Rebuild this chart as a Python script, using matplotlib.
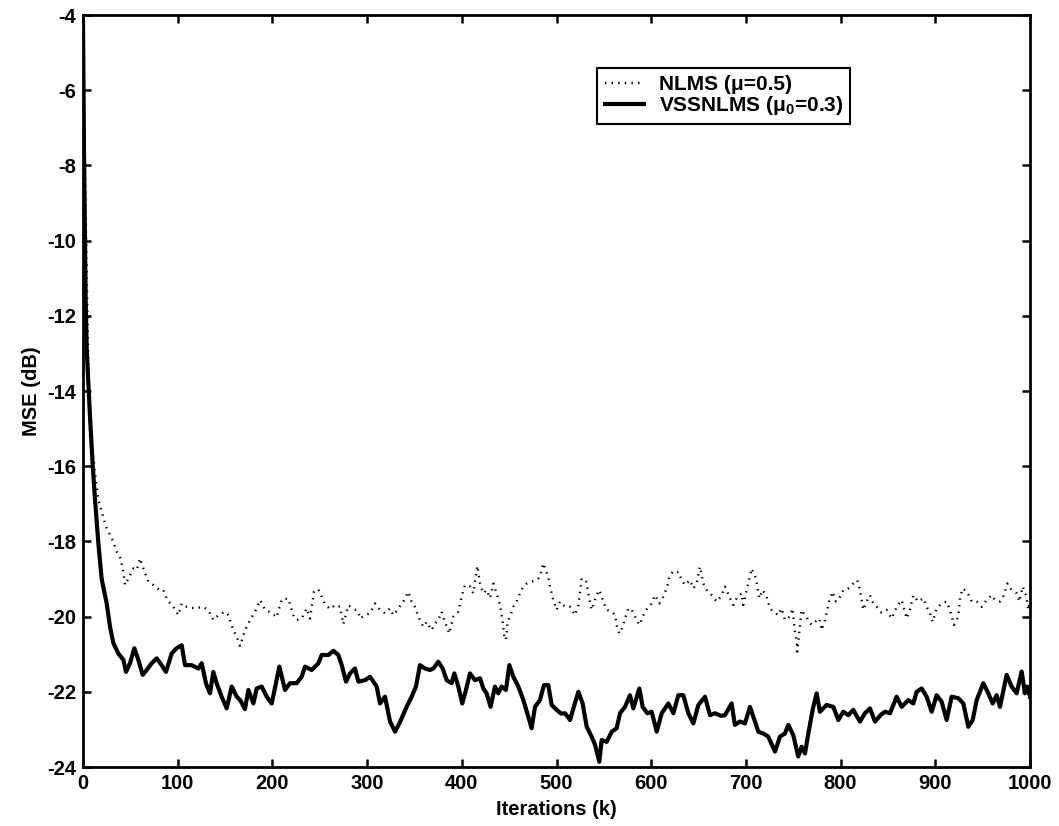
import matplotlib
matplotlib.use("Agg")
import matplotlib.pyplot as plt

plt.rcParams["font.family"] = ["Liberation Sans", "DejaVu Sans"]
plt.rcParams["font.weight"] = "bold"
plt.rcParams["axes.unicode_minus"] = False
plt.rcParams["mathtext.fontset"] = "custom"
plt.rcParams["mathtext.bf"] = "Liberation Sans:bold"
plt.rcParams["mathtext.rm"] = "Liberation Sans:bold"
plt.rcParams["mathtext.default"] = "bf"

# VSSNLMS learning curve (iteration, MSE in dB)
k_vss = [0, 1, 2.8, 3.9, 7.4, 10.2, 12.7, 16.2, 19.7, 25, 28.5, 32, 37.3, 42.6, 45.4, 49.6,
         54.2, 58.4, 63, 67.2, 72.5, 77.8, 83, 87.6, 93.6, 98.9, 104.2, 107.7, 114.7, 121.8,
         125.3, 129.9, 134.1, 137.6, 141.2, 146.4, 151.7, 157, 162.3, 166, 171, 174.6, 179.9,
         183.4, 188.7, 194, 199.2, 201, 207.3, 213.3, 218.6, 225.6, 230.9, 234.4, 241.5, 248.5,
         252, 259.1, 264.4, 269.6, 273.2, 277.7, 282, 287.2, 290.8, 297.8, 303.1, 310.1, 313.6,
         318.9, 324.2, 329.5, 334.8, 341.7, 347, 351.6, 355.8, 361.1, 366.4, 369.9, 375.2,
         379.8, 384, 389.3, 392.1, 396.3, 400.5, 404.4, 408.6, 413.9, 419.2, 422.7, 426.2,
         430.4, 435, 438.5, 442, 446.6, 450.2, 454.4, 459.7, 465, 470.2, 473.7, 477.3, 482.5,
         486.8, 491.3, 494.9, 500.1, 505, 509, 514.3, 517.8, 523.1, 527.6, 531.9, 537.1, 540.7,
         545.2, 547.7, 553, 558.3, 563.5, 567.1, 572.3, 577.6, 581.1, 587.5, 591, 595.9, 600.5,
         605.8, 611.1, 618.1, 623.4, 628.7, 633.9, 639.2, 644.5, 649.8, 656.8, 662.1, 667.4,
         674, 677.9, 684.9, 688.4, 693.7, 699, 704.3, 709.6, 713.1, 718.4, 723.6, 730.7, 736,
         741.2, 744.8, 750, 755.3, 758.8, 762.4, 765.9, 770.8, 774.7, 778.2, 785.2, 792.3,
         797.6, 802.8, 808.1, 813.4, 820.4, 825.7, 831, 836.3, 843, 846.9, 852.2, 859.2, 864.5,
         871.5, 876.8, 880.3, 885.6, 890.9, 896.2, 901.4, 906.7, 912, 917.3, 924.3, 929.6,
         934.9, 939.5, 943.7, 950.7, 956, 960.6, 964.8, 968.3, 975.4, 980.6, 985.9, 991.2,
         994.7, 997.2, 1000]
mse_vss = [-4.2, -7.6, -11.6, -12.9, -14.7, -15.97, -16.9, -18.05, -19.0, -19.65, -20.27, -20.7,
           -20.98, -21.15, -21.47, -21.24, -20.84, -21.15, -21.55, -21.42, -21.24, -21.11, -21.29,
           -21.47, -20.98, -20.84, -20.76, -21.29, -21.29, -21.38, -21.24, -21.78, -22.04, -21.47,
           -21.78, -22.13, -22.44, -21.86, -22.13, -22.22, -22.46, -21.95, -22.31, -21.91, -21.86,
           -22.13, -22.31, -22.1, -21.33, -21.95, -21.77, -21.77, -21.6, -21.33, -21.42, -21.24,
           -21.02, -21.02, -20.91, -21.02, -21.29, -21.73, -21.51, -21.38, -21.73, -21.69, -21.6,
           -21.86, -22.31, -22.13, -22.79, -23.06, -22.8, -22.4, -22.13, -21.86, -21.29, -21.38,
           -21.42, -21.38, -21.2, -21.38, -21.69, -21.77, -21.51, -21.86, -22.31, -21.95, -21.51,
           -21.69, -21.64, -21.91, -22.04, -22.4, -21.86, -22.04, -21.86, -21.95, -21.29, -21.6,
           -21.86, -22.22, -22.66, -22.97, -22.4, -22.22, -21.82, -21.82, -22.35, -22.48, -22.58,
           -22.57, -22.75, -22.44, -22.0, -22.31, -22.93, -23.19, -23.41, -23.86, -23.28, -23.33,
           -23.06, -22.97, -22.57, -22.4, -22.09, -22.44, -21.91, -22.4, -22.57, -22.53, -23.06,
           -22.57, -22.31, -22.57, -22.09, -22.09, -22.57, -22.84, -22.35, -22.13, -22.62, -22.57,
           -22.64, -22.62, -22.31, -22.88, -22.79, -22.84, -22.4, -22.79, -23.06, -23.11, -23.19,
           -23.59, -23.19, -23.11, -22.88, -23.15, -23.72, -23.46, -23.64, -23.11, -22.44, -22.04,
           -22.53, -22.35, -22.4, -22.75, -22.53, -22.62, -22.48, -22.79, -22.57, -22.44, -22.79,
           -22.6, -22.53, -22.57, -22.13, -22.4, -22.22, -22.31, -22.0, -21.91, -22.13, -22.53,
           -22.09, -22.26, -22.75, -22.13, -22.17, -22.31, -22.93, -22.75, -22.22, -21.77, -22.04,
           -22.31, -22.09, -22.4, -21.55, -21.86, -22.04, -21.46, -22.04, -21.86, -22.13]

# NLMS learning curve (iteration, MSE in dB)
k_nlms = [0, 2, 4, 6, 7.4, 10.9, 12.7, 16.2, 19.7, 24.3, 32, 35.5, 39, 41.9, 44.4, 48.9, 53.1,
          56.7, 60.2, 63, 69, 74.3, 80.6, 84.8, 89, 95.4, 100.7, 104.2, 109.5, 118.3, 127.1,
          132.3, 137.6, 142.9, 150, 153.5, 158.7, 162.3, 165.8, 171.1, 176.4, 181.6, 186.9,
          192.2, 199.2, 204.5, 209.8, 216.8, 222.1, 225.6, 230.9, 236.2, 239.7, 243.9, 248.5,
          255.6, 260.8, 266.1, 271.4, 274.9, 280.2, 285.5, 290.8, 292.5, 297.8, 303.1, 308.4,
          313.6, 318.9, 324.2, 327.7, 333, 338.3, 343.5, 347, 350.5, 354.1, 359.3, 362.9, 368.1,
          371.7, 375.2, 378.7, 382.2, 386.8, 391, 396.3, 399.8, 403.3, 408.6, 412.1, 415, 416.4,
          419.2, 422.7, 426.2, 429.7, 433.3, 436.8, 440.3, 443.1, 444.9, 446.6, 448.4, 450.9,
          454.4, 457.9, 461.4, 465, 468.5, 473.7, 479, 482.5, 486.1, 488.5, 491.3, 493.1, 496.6,
          500.1, 503.7, 509, 514.3, 519.5, 523.1, 526.6, 531.2, 533.6, 537.1, 541.7, 545.2,
          548.8, 553, 558.3, 561.8, 564.2, 566.4, 569.9, 572.3, 575.9, 579.4, 583.9, 587.5, 591,
          594.5, 599.4, 604, 608.6, 612.8, 617, 619.2, 622.7, 625.1, 628.7, 632.2, 635.7, 641,
          644.5, 648, 651.5, 655.1, 658.6, 663.9, 669.1, 674, 677.9, 683.2, 686.7, 690.2, 695.5,
          697.2, 702.5, 706, 710.6, 714.1, 717.7, 721.9, 725.4, 728.9, 734.2, 737.7, 741.2,
          746.5, 749.3, 751.8, 753.6, 754.3, 756.4, 758.8, 762.4, 765.9, 769.4, 773, 777.5, 780,
          783.5, 786, 788.1, 791.6, 795.1, 798.6, 802.8, 808.1, 813.4, 817.6, 820.4, 824, 827.5,
          831, 834.5, 839.8, 843, 848.6, 854, 859.2, 864.5, 869.8, 873.3, 876.8, 882.1, 887.4,
          890.9, 894.4, 897.2, 901.4, 906.7, 912, 915.5, 919.7, 924.3, 926.1, 928.9, 933.8,
          938.4, 943.7, 949, 954.2, 959.5, 963, 968.3, 972.5, 976.1, 980.6, 985.9, 988.7, 992.3,
          995.8, 998.2, 1000]
mse_nlms = [-4.3, -8.0, -11.0, -13.8, -15.04, -15.75, -16.19, -16.9, -17.21, -17.61, -18.01,
            -18.27, -18.41, -18.72, -19.16, -18.94, -18.72, -18.76, -18.45, -18.67, -19.07, -19.16,
            -19.29, -19.29, -19.56, -19.74, -19.96, -19.65, -19.74, -19.78, -19.74, -19.83, -20.09,
            -19.96, -19.87, -19.96, -20.36, -20.53, -20.78, -20.36, -20.09, -19.87, -19.56, -19.82,
            -19.9, -20.02, -19.54, -19.52, -19.96, -20.09, -20.05, -19.78, -20.05, -19.34, -19.27,
            -19.67, -19.8, -19.69, -19.74, -20.2, -19.7, -19.78, -19.87, -20.05, -19.96, -19.91,
            -19.65, -19.82, -19.91, -19.78, -19.96, -19.78, -19.6, -19.34, -19.6, -19.74, -20.0,
            -20.27, -20.14, -20.36, -20.18, -20.09, -19.87, -20.14, -20.45, -20.0, -19.87, -19.47,
            -19.16, -19.2, -19.38, -18.89, -18.65, -19.12, -19.38, -19.29, -19.51, -19.12, -19.38,
            -19.69, -20.14, -20.53, -20.62, -20.14, -20.0, -19.74, -19.6, -19.38, -19.2, -19.12,
            -19.07, -19.03, -18.94, -18.58, -18.76, -18.94, -19.2, -19.56, -19.82, -19.6, -19.74,
            -19.74, -19.96, -19.69, -18.98, -19.07, -19.38, -19.82, -19.47, -19.29, -19.56, -19.82,
            -19.87, -19.96, -20.31, -20.45, -20.27, -20.05, -19.78, -19.82, -20.05, -20.22, -20.0,
            -19.82, -19.69, -19.43, -19.65, -19.47, -19.2, -18.94, -18.81, -18.85, -18.81, -19.03,
            -19.16, -19.03, -19.25, -19.12, -18.67, -19.12, -19.29, -19.43, -19.6, -19.45, -19.2,
            -19.51, -19.69, -19.51, -19.38, -19.69, -19.12, -18.72, -18.98, -19.51, -19.29, -19.47,
            -19.78, -19.87, -19.96, -19.78, -20.09, -20.0, -19.78, -20.4, -20.67, -20.93, -20.4,
            -19.82, -19.96, -20.09, -20.22, -20.14, -20.05, -20.36, -20.09, -19.82, -19.56, -19.34,
            -19.6, -19.51, -19.29, -19.25, -19.12, -19.03, -19.29, -19.82, -19.6, -19.43, -19.65,
            -19.78, -19.89, -19.82, -20.05, -19.74, -19.56, -20.05, -19.82, -19.43, -19.6, -19.51,
            -19.74, -19.91, -20.14, -19.78, -19.65, -19.6, -19.82, -20.22, -20.0, -19.51, -19.25,
            -19.34, -19.6, -19.6, -19.74, -19.56, -19.43, -19.56, -19.6, -19.43, -19.12, -19.29,
            -19.38, -19.6, -19.2, -19.43, -19.82, -19.56]

xticks = list(range(0, 1001, 100))
yticks = list(range(-24, -3, 2))

fig = plt.figure(figsize=(10.59, 8.26), dpi=100)
ax = fig.add_axes([0.0784, 0.0714, 0.8942, 0.9104])

ax.plot(k_nlms, mse_nlms, color="black", linestyle=(0, (0.6, 2.2)), linewidth=1.7,
        label="NLMS (μ=0.5)")
ax.plot(k_vss, mse_vss, color="black", linestyle="-", linewidth=3.0,
        solid_joinstyle="round", label="VSSNLMS (μ$_0$=0.3)")

ax.set_xlim(0, 1000)
ax.set_ylim(-24, -4)
ax.set_xticks(xticks)
ax.set_yticks(yticks)
ax.tick_params(direction="in", length=6, width=1.8, top=True, right=True,
               labelsize=14.5, pad=5)
for lbl in ax.get_xticklabels() + ax.get_yticklabels():
    lbl.set_fontweight("bold")
for sp in ax.spines.values():
    sp.set_linewidth(2.0)

ax.set_xlabel("Iterations (k)", fontsize=14.5, fontweight="bold", labelpad=5)
ax.set_ylabel("MSE (dB)", fontsize=14.5, fontweight="bold", labelpad=4)

leg = ax.legend(loc="upper left", bbox_to_anchor=(0.543, 0.93), fancybox=False,
                frameon=True, edgecolor="black", framealpha=1, fontsize=15,
                handlelength=1.9, handletextpad=0.7, labelspacing=0.0,
                borderpad=0.35, borderaxespad=0)
leg.get_frame().set_linewidth(1.5)
for t in leg.get_texts():
    t.set_fontweight("bold")

fig.savefig("out.png", dpi=100)
